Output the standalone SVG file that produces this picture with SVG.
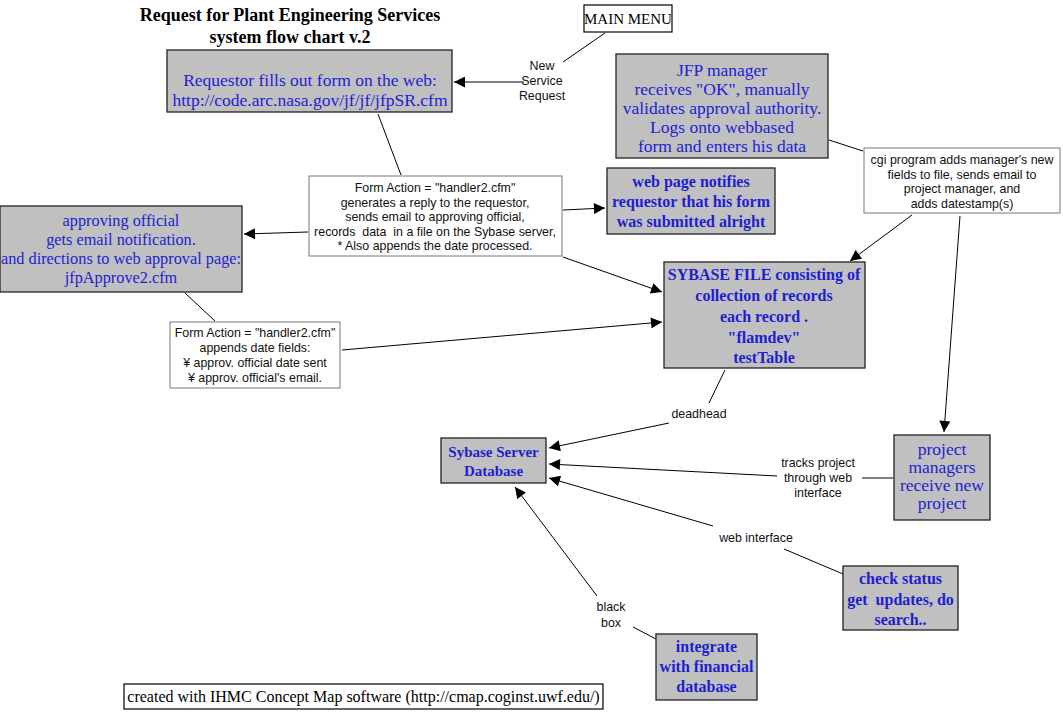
<svg xmlns="http://www.w3.org/2000/svg" width="1063" height="713" viewBox="0 0 1063 713">
<style>
.g{fill:#c0c0c0;stroke:#222;stroke-width:1.3}
.w{fill:#fff;stroke:#777;stroke-width:1}
.b{fill:#fff;stroke:#000;stroke-width:1.2}
.tn{font-family:"Liberation Serif",serif;font-size:17.5px;fill:#1e1ed0;text-anchor:middle}
.tb{font-family:"Liberation Serif",serif;font-size:16px;font-weight:bold;fill:#1e1ed0;text-anchor:middle}
.s{font-family:"Liberation Sans",Arial,sans-serif;font-size:12.4px;fill:#111;text-anchor:middle}
.ti{font-family:"Liberation Serif",serif;font-size:18px;font-weight:bold;fill:#000;text-anchor:middle}
.k{font-family:"Liberation Serif",serif;font-size:15px;fill:#000;text-anchor:middle}
.p{white-space:pre}
.c line{stroke:#000;stroke-width:1}
</style>
<defs>
<marker id="a" viewBox="0 0 10 10" refX="10" refY="5" markerWidth="13" markerHeight="11" markerUnits="userSpaceOnUse" orient="auto"><path d="M0,0L10,5L0,10z" fill="#000"/></marker>
</defs>
<rect width="1063" height="713" fill="#fff"/>
<g id="title">
<text class="ti" x="290" y="21">Request for Plant Engineering Services</text>
<text class="ti" x="290" y="43">system flow chart v.2</text>
</g>
<g class="c" id="connectors">
<line x1="605" y1="33" x2="563" y2="62"/>
<line x1="524" y1="82" x2="454" y2="82" marker-end="url(#a)"/>
<line x1="378" y1="114" x2="401" y2="175"/>
<line x1="563" y1="210" x2="605" y2="208" marker-end="url(#a)"/>
<line x1="308" y1="232" x2="244" y2="234" marker-end="url(#a)"/>
<line x1="563" y1="257" x2="662" y2="292" marker-end="url(#a)"/>
<line x1="829" y1="140" x2="863" y2="151"/>
<line x1="912" y1="215" x2="850" y2="261" marker-end="url(#a)"/>
<line x1="960" y1="216" x2="944" y2="432" marker-end="url(#a)"/>
<line x1="185" y1="293" x2="215" y2="321"/>
<line x1="342" y1="350" x2="662" y2="322" marker-end="url(#a)"/>
<line x1="725" y1="370" x2="709" y2="403"/>
<line x1="669" y1="423" x2="549" y2="448" marker-end="url(#a)"/>
<line x1="893" y1="478" x2="862" y2="478"/>
<line x1="777" y1="476" x2="549" y2="464" marker-end="url(#a)"/>
<line x1="713" y1="526" x2="549" y2="478" marker-end="url(#a)"/>
<line x1="843" y1="574" x2="784" y2="549"/>
<line x1="597" y1="596" x2="515" y2="487" marker-end="url(#a)"/>
<line x1="633" y1="627" x2="656" y2="639"/>
</g>
<g id="main-menu">
<rect class="b" x="584" y="5" width="88" height="27"/>
<text class="k" x="628" y="24">MAIN MENU</text>
</g>
<g id="new-service-request">
<text class="s" x="542" y="70">New</text>
<text class="s" x="542" y="85">Service</text>
<text class="s" x="542" y="100">Request</text>
</g>
<g id="requestor">
<rect class="g" x="167" y="50" width="285" height="62"/>
<text class="tn" x="310" y="86">Requestor fills out form on the web:</text>
<text class="tn" x="310" y="106">http://code.arc.nasa.gov/jf/jf/jfpSR.cfm</text>
</g>
<g id="jfp-manager">
<rect class="g" x="616" y="54" width="212" height="104"/>
<text class="tn" x="722" y="76">JFP manager</text>
<text class="tn" x="722" y="95">receives "OK", manually</text>
<text class="tn" x="722" y="114">validates approval authority.</text>
<text class="tn" x="722" y="133">Logs onto webbased</text>
<text class="tn" x="722" y="152">form and enters his data</text>
</g>
<g id="form-action-1">
<rect class="w" x="309" y="176" width="253" height="80"/>
<text class="s" x="435" y="192">Form Action = "handler2.cfm"</text>
<text class="s" x="435" y="206.5">generates a reply to the requestor,</text>
<text class="s" x="435" y="221">sends email to approving official,</text>
<text class="s p" x="435" y="235.5">records  data  in a file on the Sybase server,</text>
<text class="s" x="435" y="250">* Also appends the date processed.</text>
</g>
<g id="web-page-notifies">
<rect class="g" x="607" y="168" width="168" height="66"/>
<text class="tb" x="691" y="187">web page notifies</text>
<text class="tb" x="691" y="207">requestor that his form</text>
<text class="tb" x="691" y="227">was submitted alright</text>
</g>
<g id="approving-official">
<rect class="g" x="0" y="206" width="242" height="86"/>
<text class="tn" x="121" y="226" style="font-size:16.3px">approving official</text>
<text class="tn" x="121" y="245" style="font-size:16.3px">gets email notification.</text>
<text class="tn" x="121" y="264" style="font-size:16.3px">and directions to web approval page:</text>
<text class="tn" x="121" y="283" style="font-size:16.3px">jfpApprove2.cfm</text>
</g>
<g id="cgi-program">
<rect class="w" x="864" y="148" width="196" height="65"/>
<text class="s" x="962" y="164">cgi program adds manager's new</text>
<text class="s" x="962" y="178.5">fields to file, sends email to</text>
<text class="s" x="962" y="193">project manager, and</text>
<text class="s" x="962" y="207.5">adds datestamp(s)</text>
</g>
<g id="sybase-file">
<rect class="g" x="664" y="262" width="201" height="106"/>
<text class="tb" x="764" y="280">SYBASE FILE consisting of</text>
<text class="tb" x="764" y="301">collection of records</text>
<text class="tb" x="764" y="322">each record .</text>
<text class="tb" x="764" y="343">"flamdev"</text>
<text class="tb" x="764" y="363">testTable</text>
</g>
<g id="form-action-2">
<rect class="w" x="170" y="322" width="170" height="66"/>
<text class="s" x="255" y="337">Form Action = "handler2.cfm"</text>
<text class="s" x="255" y="352">appends date fields:</text>
<text class="s" x="255" y="367">¥ approv. official date sent</text>
<text class="s" x="255" y="382">¥ approv. official's email.</text>
</g>
<g id="deadhead">
<text class="s" x="699" y="418">deadhead</text>
</g>
<g id="sybase-server">
<rect class="g" x="441" y="438" width="105" height="45"/>
<text class="tb" x="493.5" y="457" style="font-size:15px">Sybase Server</text>
<text class="tb" x="493.5" y="476" style="font-size:15px">Database</text>
</g>
<g id="tracks-project">
<text class="s" x="818" y="467">tracks project</text>
<text class="s" x="818" y="482">through web</text>
<text class="s" x="818" y="497">interface</text>
</g>
<g id="project-managers">
<rect class="g" x="894" y="435" width="96" height="85"/>
<text class="tn" x="942" y="455">project</text>
<text class="tn" x="942" y="473">managers</text>
<text class="tn" x="942" y="491">receive new</text>
<text class="tn" x="942" y="509">project</text>
</g>
<g id="web-interface">
<text class="s" x="756" y="542">web interface</text>
</g>
<g id="check-status">
<rect class="g" x="843" y="566" width="115" height="64"/>
<text class="tb" x="900.5" y="584">check status</text>
<text class="tb p" x="900.5" y="605">get  updates, do</text>
<text class="tb" x="900.5" y="625">search..</text>
</g>
<g id="black-box">
<text class="s" x="611" y="611">black</text>
<text class="s" x="611" y="627">box</text>
</g>
<g id="integrate">
<rect class="g" x="656" y="634" width="101" height="66"/>
<text class="tb" x="706.5" y="652">integrate</text>
<text class="tb" x="706.5" y="672">with financial</text>
<text class="tb" x="706.5" y="692">database</text>
</g>
<g id="footer">
<rect class="b" x="124" y="684" width="479" height="25"/>
<text class="k" x="363.5" y="702" style="font-size:16px">created with IHMC Concept Map software (http://cmap.coginst.uwf.edu/)</text>
</g>
</svg>
